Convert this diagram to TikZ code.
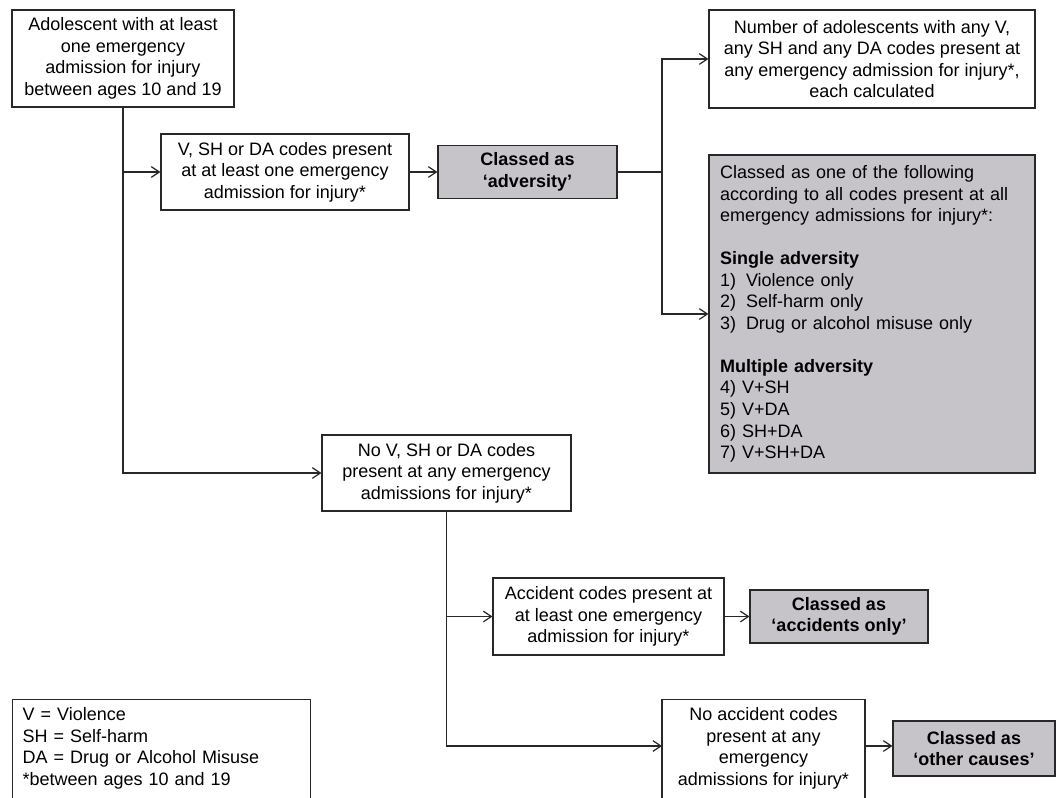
\documentclass[tikz,border=0pt]{standalone}
\usepackage{fontspec}
\setmainfont{Liberation Sans}
\usetikzlibrary{arrows.meta}
\definecolor{boxgrey}{RGB}{199,196,201}
\definecolor{linec}{RGB}{40,40,40}
\tikzset{
  box/.style={draw=linec, line width=0.9pt, fill=white, align=center, inner sep=0pt,
    font=\fontsize{13.5}{16.2}\selectfont},
  greybox/.style={box, fill=boxgrey, font=\fontsize{13.5}{16.2}\selectfont\bfseries},
  arr/.style={draw=linec, line width=0.9pt, -{Straight Barb[length=6pt,width=8pt,line width=0.9pt]}},
  ln/.style={draw=linec, line width=0.9pt}
}
\begin{document}
\begin{tikzpicture}[x=0.75pt,y=-0.75pt]
\useasboundingbox (0,0) rectangle (1056,797);
\fill[white] (0,0) rectangle (1056,797);

\node[box, minimum width=166.5pt, minimum height=72.75pt] (top) at (123,58.5)
  {Adolescent with at least\\one emergency\\admission for injury\\between ages 10 and 19};
\node[box, minimum width=186pt, minimum height=57pt] (vsh) at (285,172)
  {V, SH or DA codes present\\at at least one emergency\\admission for injury*};
\node[greybox, minimum width=134.25pt, minimum height=39.75pt] (adv) at (527.5,172)
  {Classed as\\‘adversity’};
\node[box, minimum width=244.5pt, minimum height=73.5pt] (num) at (872,59)
  {Number of adolescents with any V,\\any SH and any DA codes present at\\any emergency admission for injury*,\\each calculated};
\node[box, fill=boxgrey, align=left, text width=228pt, inner xsep=8.25pt, minimum height=238.5pt] (big) at (872,314)
  {Classed as one of the following\\according to all codes present at all\\emergency admissions for injury*:\\[16pt]
   \textbf{Single adversity}\\
   \makebox[19.5pt][l]{1)}Violence only\\
   \makebox[19.5pt][l]{2)}Self-harm only\\
   \makebox[19.5pt][l]{3)}Drug or alcohol misuse only\\[16pt]
   \textbf{Multiple adversity}\\
   4) V+SH\\5) V+DA\\6) SH+DA\\7) V+SH+DA};
\node[box, minimum width=186.75pt, minimum height=57pt] (nov) at (446.5,473)
  {No V, SH or DA codes\\present at any emergency\\admissions for injury*};
\node[box, minimum width=173.25pt, minimum height=57.75pt] (acc) at (608.5,616.5)
  {Accident codes present at\\at least one emergency\\admission for injury*};
\node[greybox, minimum width=133.5pt, minimum height=39.75pt] (acco) at (839,616.5)
  {Classed as\\‘accidents only’};
\node[box, anchor=north, minimum width=152.25pt, inner ysep=6pt] (noacc) at (763.5,699)
  {No accident codes\\present at any\\emergency\\admissions for injury*\\\strut};
\node[greybox, minimum width=121.5pt, minimum height=41.25pt] (othr) at (974,748.5)
  {Classed as\\‘other causes’};
\node[box, anchor=north west, align=left, text width=208.5pt, inner xsep=7.5pt, inner ysep=6pt] (leg) at (12,699)
  {V = Violence\\SH = Self-harm\\DA = Drug or Alcohol Misuse\\{}*between ages 10 and 19\\\strut};

\coordinate (j1) at (662,172);
\coordinate (na) at (662,746);

\draw[arr] (top.south) |- (nov.west);
\draw[arr] (top.south |- vsh.west) -- (vsh.west);
\draw[arr] (vsh.east) -- (adv.west);
\draw[ln] (adv.east) -- (j1);
\draw[arr] (j1) |- (num.west);
\draw[arr] (j1) |- (big.west);
\draw[arr] (nov.south) |- (acc.west);
\draw[arr] (acc.east) -- (acco.west);
\draw[arr] (nov.south) |- (na);
\draw[arr] (noacc.east |- na) -- (othr.west |- na);
\end{tikzpicture}
\end{document}
